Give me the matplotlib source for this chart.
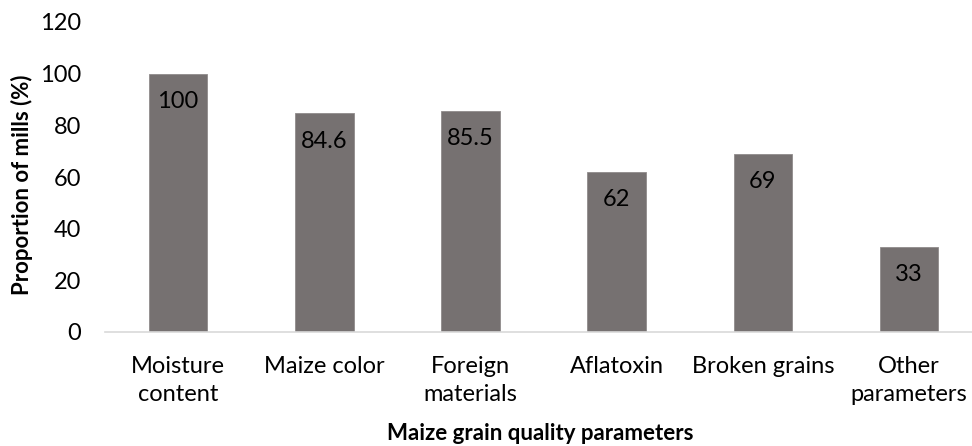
import matplotlib
matplotlib.use("Agg")
import matplotlib.pyplot as plt

plt.rcParams['font.family'] = ['Lato', 'DejaVu Sans']

# quality parameters checked by mills
categories = ["Moisture\ncontent", "Maize color", "Foreign\nmaterials",
              "Aflatoxin", "Broken grains", "Other\nparameters"]
proportions = [100, 84.6, 85.5, 62, 69, 33]
value_labels = ["100", "84.6", "85.5", "62", "69", "33"]
y_ticks = [0, 20, 40, 60, 80, 100, 120]

BAR_COLOR = "#767171"

fig = plt.figure(figsize=(9.72, 4.46), dpi=100)
ax = fig.add_axes([105 / 972, 1 - 332 / 446, 867 / 972, 310 / 446])

x = range(len(categories))
bars = ax.bar(x, proportions, width=0.4, color=BAR_COLOR,
              edgecolor="#8f8b8b", linewidth=0.6, zorder=2)

for bar, val, lab in zip(bars, proportions, value_labels):
    ax.annotate(lab, (bar.get_x() + bar.get_width() / 2, val),
                xytext=(0, -20), textcoords="offset points",
                ha="center", va="center", fontsize=17, color="#000000")

ax.set_xlim(-0.5, 5.43)
ax.set_ylim(0, 120)
ax.set_yticks(y_ticks)
ax.set_xticks(list(x))
ax.set_xticklabels(categories, fontsize=17, linespacing=1.45)
ax.tick_params(axis="both", length=0, labelsize=17, labelcolor="#000000")
ax.tick_params(axis="x", pad=17)
ax.tick_params(axis="y", pad=17)

for side in ["top", "right", "left"]:
    ax.spines[side].set_visible(False)
ax.spines["bottom"].set_color("#d9d9d9")
ax.spines["bottom"].set_linewidth(1.2)

fig.text(22 / 972, 1 - 185 / 446, "Proportion of mills (%)", rotation=90,
         ha="center", va="center", fontsize=16, fontweight="bold")
fig.text(540 / 972, 1 - 434 / 446, "Maize grain quality parameters",
         ha="center", va="center", fontsize=16, fontweight="bold")

fig.savefig("out.png", dpi=100)
